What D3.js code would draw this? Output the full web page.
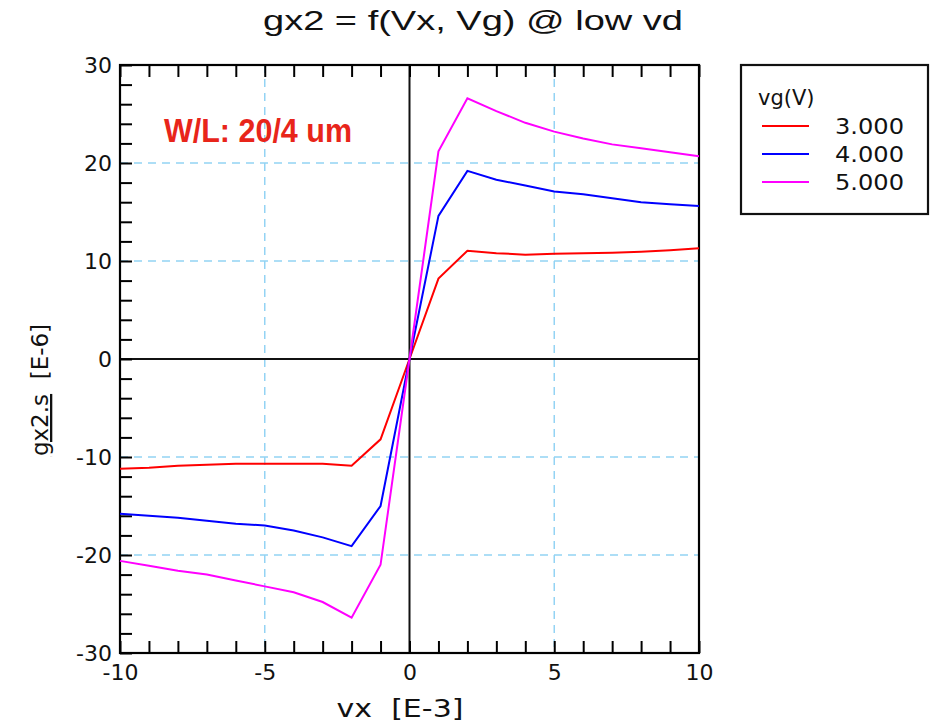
<!DOCTYPE html>
<html>
<head>
<meta charset="utf-8">
<script src="https://cdn.jsdelivr.net/npm/d3@7"></script>
<style>
  body { margin: 0; background: #fff; }
  svg { display: block; }
</style>
</head>
<body>
<svg id="chart" width="932" height="726"></svg>
<script>
// ---- data ----
const vx = [-10,-9,-8,-7,-6,-5,-4,-3,-2,-1,0,1,2,3,4,5,6,7,8,9,10];
const vg3 = [-11.2,-11.1,-10.9,-10.8,-10.7,-10.7,-10.7,-10.7,-10.9,-8.2,0,8.2,11.05,10.8,10.65,10.75,10.8,10.85,10.95,11.1,11.3];
const vg4 = [-15.8,-16.0,-16.2,-16.5,-16.8,-17.0,-17.5,-18.2,-19.1,-15.0,0,14.6,19.2,18.3,17.7,17.1,16.8,16.4,16.0,15.8,15.6];
const vg5 = [-20.6,-21.1,-21.6,-22.0,-22.6,-23.2,-23.8,-24.8,-26.4,-21.0,0,21.2,26.6,25.3,24.1,23.2,22.5,21.9,21.5,21.1,20.7];
const seriesNames = ["3.000","4.000","5.000"];
const seriesColors = ["#ff0000","#0000ff","#ff00ff"];
const xTickMajor = [-10,-5,0,5,10];
const yTickMajor = [-30,-20,-10,0,10,20,30];
const xGrid = [-5,5];
const yGrid = [-20,-10,10,20];

const title = "gx2 = f(Vx, Vg) @ low vd";
const xLabel = "vx  [E-3]";
const annotation = "W/L: 20/4 um";
const legendTitle = "vg(V)";

// ---- layout ----
const L = 120, R = 699, T = 65, B = 653;
const svg = d3.select("#chart");
const x = d3.scaleLinear().domain([-10,10]).range([L,R]);
const y = d3.scaleLinear().domain([-30,30]).range([B,T]);

// grid
const grid = svg.append("g").attr("stroke","#93d3f4").attr("stroke-width",1.5).attr("stroke-dasharray","8,6");
grid.selectAll("line.v").data(xGrid).join("line").attr("class","v")
  .attr("x1",d=>x(d)).attr("x2",d=>x(d)).attr("y1",T).attr("y2",B);
grid.selectAll("line.h").data(yGrid).join("line").attr("class","h")
  .attr("y1",d=>y(d)).attr("y2",d=>y(d)).attr("x1",L).attr("x2",R);

// zero lines
svg.append("line").attr("x1",x(0)).attr("x2",x(0)).attr("y1",T).attr("y2",B).attr("stroke","#111").attr("stroke-width",2);
svg.append("line").attr("x1",L).attr("x2",R).attr("y1",y(0)).attr("y2",y(0)).attr("stroke","#111").attr("stroke-width",2);

// axes
const xTicks = d3.range(-10,11,1);
const yTicks = d3.range(-30,31,2);
const fmtX = d => xTickMajor.includes(d) ? String(d) : "";
const fmtY = d => yTickMajor.includes(d) ? String(d) : "";

const gB = svg.append("g").attr("transform",`translate(0,${B})`)
  .call(d3.axisBottom(x).tickValues(xTicks).tickFormat(fmtX).tickSize(-12).tickPadding(11));
const gT = svg.append("g").attr("transform",`translate(0,${T})`)
  .call(d3.axisTop(x).tickValues(xTicks).tickFormat("").tickSize(-12));
const gL = svg.append("g").attr("transform",`translate(${L},0)`)
  .call(d3.axisLeft(y).tickValues(yTicks).tickFormat(fmtY).tickSize(-12).tickPadding(8));

[gB,gT,gL].forEach(g => {
  g.select(".domain").remove();
  g.selectAll(".tick line").attr("stroke","#000").attr("stroke-width",2);
  g.selectAll(".tick text").attr("fill","#111").style("font-family","'DejaVu Sans', sans-serif").style("font-size","22px");
});

// frame
svg.append("rect").attr("x",L).attr("y",T).attr("width",R-L).attr("height",B-T)
  .attr("fill","none").attr("stroke","#000").attr("stroke-width",2.2);

// lines
const allSeries = [vg3,vg4,vg5];
const line = d3.line().x((d,i)=>x(vx[i])).y(d=>y(d));
svg.append("g").selectAll("path").data(allSeries).join("path")
  .attr("d",d=>line(d)).attr("fill","none")
  .attr("stroke",(d,i)=>seriesColors[i]).attr("stroke-width",2);

// title
svg.append("text").attr("x",473).attr("y",30).attr("text-anchor","middle")
  .attr("textLength",420).attr("lengthAdjust","spacingAndGlyphs")
  .style("font-family","'Liberation Sans', Arial, sans-serif").style("font-size","28px").attr("fill","#111")
  .text(title);

// x label
svg.append("text").attr("x",400).attr("y",717).attr("text-anchor","middle")
  .attr("textLength",127).attr("lengthAdjust","spacingAndGlyphs")
  .style("font-family","'DejaVu Sans', sans-serif").style("font-size","24px").attr("fill","#111")
  .style("white-space","pre")
  .text(xLabel);

// y label
const yl = svg.append("text").attr("transform","translate(48,390) rotate(-90)").attr("text-anchor","middle")
  .style("font-family","'DejaVu Sans', sans-serif").style("font-size","23px").attr("fill","#111")
  .style("white-space","pre");
yl.append("tspan").attr("text-decoration","underline").text("gx2.s");
yl.append("tspan").text("  [E-6]");

// annotation
svg.append("text").attr("x",164).attr("y",142)
  .attr("textLength",188).attr("lengthAdjust","spacingAndGlyphs")
  .style("font-family","'Liberation Sans Narrow', 'Liberation Sans', Arial, sans-serif")
  .style("font-size","34px").style("font-weight","bold").attr("fill","#e8251a")
  .text(annotation);

// legend
const lg = svg.append("g");
lg.append("rect").attr("x",741).attr("y",65).attr("width",187).attr("height",149)
  .attr("fill","#fff").attr("stroke","#111").attr("stroke-width",2.2);
lg.append("text").attr("x",758).attr("y",105)
  .style("font-family","'DejaVu Sans', sans-serif").style("font-size","21px").attr("fill","#111")
  .text(legendTitle);
const ly = [126,154,182];
seriesNames.forEach((n,i) => {
  lg.append("line").attr("x1",762).attr("x2",809).attr("y1",ly[i]).attr("y2",ly[i])
    .attr("stroke",seriesColors[i]).attr("stroke-width",2);
  lg.append("text").attr("x",835).attr("y",ly[i]+8)
    .attr("textLength",69).attr("lengthAdjust","spacingAndGlyphs")
    .style("font-family","'DejaVu Sans', sans-serif").style("font-size","22px").attr("fill","#111")
    .text(n);
});
</script>
</body>
</html>
